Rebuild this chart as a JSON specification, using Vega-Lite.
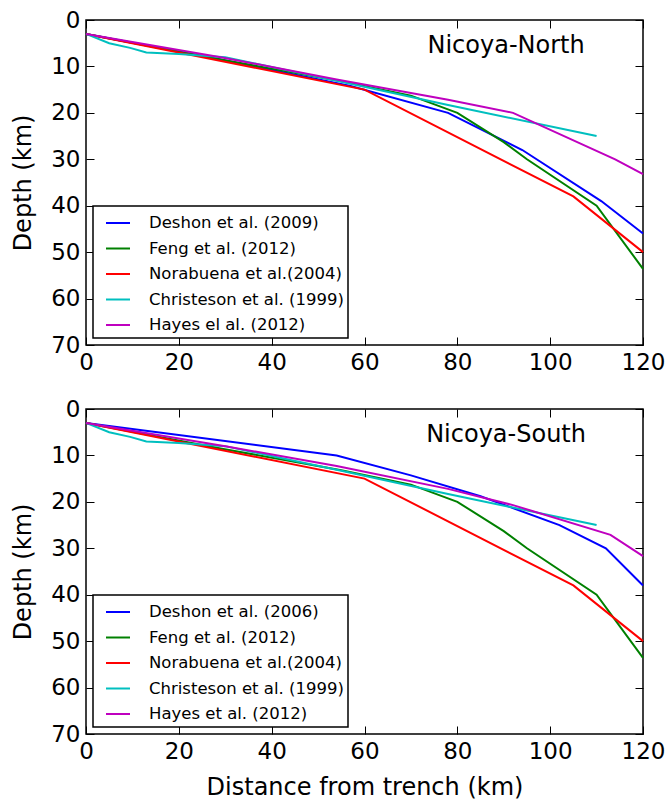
{
  "$schema": "https://vega.github.io/schema/vega-lite/v6.json",
  "padding": {"left": 10, "top": 8, "right": 5, "bottom": 5},
  "datasets": {
    "north": [
      {"source": "Deshon et al. (2009)", "distance": 0, "depth": 3},
      {"source": "Deshon et al. (2009)", "distance": 29, "depth": 8.5},
      {"source": "Deshon et al. (2009)", "distance": 57, "depth": 14.2},
      {"source": "Deshon et al. (2009)", "distance": 78, "depth": 20},
      {"source": "Deshon et al. (2009)", "distance": 94, "depth": 28},
      {"source": "Deshon et al. (2009)", "distance": 111, "depth": 39},
      {"source": "Deshon et al. (2009)", "distance": 120, "depth": 46},
      {"source": "Feng et al. (2012)", "distance": 0, "depth": 3},
      {"source": "Feng et al. (2012)", "distance": 29, "depth": 8.5},
      {"source": "Feng et al. (2012)", "distance": 55, "depth": 13.2},
      {"source": "Feng et al. (2012)", "distance": 70, "depth": 16.3},
      {"source": "Feng et al. (2012)", "distance": 80, "depth": 20},
      {"source": "Feng et al. (2012)", "distance": 90, "depth": 26.3},
      {"source": "Feng et al. (2012)", "distance": 95, "depth": 30},
      {"source": "Feng et al. (2012)", "distance": 110, "depth": 40},
      {"source": "Feng et al. (2012)", "distance": 120, "depth": 53.6},
      {"source": "Norabuena et al.(2004)", "distance": 0, "depth": 3},
      {"source": "Norabuena et al.(2004)", "distance": 60, "depth": 15},
      {"source": "Norabuena et al.(2004)", "distance": 105, "depth": 38},
      {"source": "Norabuena et al.(2004)", "distance": 120, "depth": 50},
      {"source": "Christeson et al. (1999)", "distance": 0, "depth": 3},
      {"source": "Christeson et al. (1999)", "distance": 5, "depth": 5},
      {"source": "Christeson et al. (1999)", "distance": 9.5, "depth": 6},
      {"source": "Christeson et al. (1999)", "distance": 13, "depth": 7},
      {"source": "Christeson et al. (1999)", "distance": 20, "depth": 7.3},
      {"source": "Christeson et al. (1999)", "distance": 30, "depth": 8},
      {"source": "Christeson et al. (1999)", "distance": 55, "depth": 13.3},
      {"source": "Christeson et al. (1999)", "distance": 78, "depth": 18.3},
      {"source": "Christeson et al. (1999)", "distance": 110, "depth": 25},
      {"source": "Hayes el al. (2012)", "distance": 0, "depth": 3},
      {"source": "Hayes el al. (2012)", "distance": 29, "depth": 8},
      {"source": "Hayes el al. (2012)", "distance": 54, "depth": 12.8},
      {"source": "Hayes el al. (2012)", "distance": 78, "depth": 17.2},
      {"source": "Hayes el al. (2012)", "distance": 92, "depth": 20},
      {"source": "Hayes el al. (2012)", "distance": 114, "depth": 30},
      {"source": "Hayes el al. (2012)", "distance": 120, "depth": 33.2}
    ],
    "south": [
      {"source": "Deshon et al. (2006)", "distance": 0, "depth": 3},
      {"source": "Deshon et al. (2006)", "distance": 54, "depth": 10},
      {"source": "Deshon et al. (2006)", "distance": 70, "depth": 14.3},
      {"source": "Deshon et al. (2006)", "distance": 85, "depth": 18.8},
      {"source": "Deshon et al. (2006)", "distance": 102, "depth": 25},
      {"source": "Deshon et al. (2006)", "distance": 112, "depth": 30},
      {"source": "Deshon et al. (2006)", "distance": 120, "depth": 38},
      {"source": "Feng et al. (2012)", "distance": 0, "depth": 3},
      {"source": "Feng et al. (2012)", "distance": 29, "depth": 8.5},
      {"source": "Feng et al. (2012)", "distance": 55, "depth": 13.2},
      {"source": "Feng et al. (2012)", "distance": 70, "depth": 16.3},
      {"source": "Feng et al. (2012)", "distance": 80, "depth": 20},
      {"source": "Feng et al. (2012)", "distance": 90, "depth": 26.3},
      {"source": "Feng et al. (2012)", "distance": 95, "depth": 30},
      {"source": "Feng et al. (2012)", "distance": 110, "depth": 40},
      {"source": "Feng et al. (2012)", "distance": 120, "depth": 53.6},
      {"source": "Norabuena et al.(2004)", "distance": 0, "depth": 3},
      {"source": "Norabuena et al.(2004)", "distance": 60, "depth": 15},
      {"source": "Norabuena et al.(2004)", "distance": 105, "depth": 38},
      {"source": "Norabuena et al.(2004)", "distance": 120, "depth": 50},
      {"source": "Christeson et al. (1999)", "distance": 0, "depth": 3},
      {"source": "Christeson et al. (1999)", "distance": 5, "depth": 5},
      {"source": "Christeson et al. (1999)", "distance": 9.5, "depth": 6},
      {"source": "Christeson et al. (1999)", "distance": 13, "depth": 7},
      {"source": "Christeson et al. (1999)", "distance": 20, "depth": 7.3},
      {"source": "Christeson et al. (1999)", "distance": 30, "depth": 8},
      {"source": "Christeson et al. (1999)", "distance": 55, "depth": 13.3},
      {"source": "Christeson et al. (1999)", "distance": 78, "depth": 18.3},
      {"source": "Christeson et al. (1999)", "distance": 110, "depth": 25},
      {"source": "Hayes et al. (2012)", "distance": 0, "depth": 3},
      {"source": "Hayes et al. (2012)", "distance": 30, "depth": 8},
      {"source": "Hayes et al. (2012)", "distance": 54, "depth": 12.3},
      {"source": "Hayes et al. (2012)", "distance": 78, "depth": 17.2},
      {"source": "Hayes et al. (2012)", "distance": 92, "depth": 20.7},
      {"source": "Hayes et al. (2012)", "distance": 113, "depth": 27.1},
      {"source": "Hayes et al. (2012)", "distance": 120, "depth": 31.7}
    ]
  },
  "spacing": 22,
  "vconcat": [
    {
      "width": 557,
      "height": 325,
      "layer": [
        {
          "data": {"name": "north"},
          "mark": {"type": "line", "strokeWidth": 2},
          "encoding": {
            "x": {"field": "distance", "type": "quantitative", "scale": {"domain": [0, 120], "nice": false}, "axis": {"values": [0, 20, 40, 60, 80, 100, 120], "title": null}},
            "y": {"field": "depth", "type": "quantitative", "scale": {"domain": [0, 70], "nice": false, "reverse": true}, "axis": {"values": [0, 10, 20, 30, 40, 50, 60, 70], "title": "Depth (km)"}},
            "color": {"field": "source", "type": "nominal", "scale": {"domain": ["Deshon et al. (2009)", "Feng et al. (2012)", "Norabuena et al.(2004)", "Christeson et al. (1999)", "Hayes el al. (2012)"], "range": ["#0000ff", "#008000", "#ff0000", "#00bfbf", "#bf00bf"]}, "legend": {"title": null}}
          }
        },
        {
          "data": {"values": [{}]},
          "mark": {"type": "text", "fontSize": 24, "align": "center", "baseline": "alphabetic", "color": "black"},
          "encoding": {
            "x": {"datum": 90.5, "type": "quantitative", "scale": {"domain": [0, 120], "nice": false}, "axis": {"orient": "top", "labels": false, "title": null, "values": [0, 20, 40, 60, 80, 100, 120]}},
            "y": {"datum": 7.1, "type": "quantitative", "scale": {"domain": [0, 70], "nice": false, "reverse": true}, "axis": {"orient": "right", "labels": false, "title": null, "values": [0, 10, 20, 30, 40, 50, 60, 70]}},
            "text": {"value": "Nicoya-North"}
          }
        }
      ],
      "resolve": {"axis": {"x": "independent", "y": "independent"}}
    },
    {
      "width": 557,
      "height": 325,
      "layer": [
        {
          "data": {"name": "south"},
          "mark": {"type": "line", "strokeWidth": 2},
          "encoding": {
            "x": {"field": "distance", "type": "quantitative", "scale": {"domain": [0, 120], "nice": false}, "axis": {"values": [0, 20, 40, 60, 80, 100, 120], "title": "Distance from trench (km)", "titlePadding": 12}},
            "y": {"field": "depth", "type": "quantitative", "scale": {"domain": [0, 70], "nice": false, "reverse": true}, "axis": {"values": [0, 10, 20, 30, 40, 50, 60, 70], "title": "Depth (km)"}},
            "color": {"field": "source", "type": "nominal", "scale": {"domain": ["Deshon et al. (2006)", "Feng et al. (2012)", "Norabuena et al.(2004)", "Christeson et al. (1999)", "Hayes et al. (2012)"], "range": ["#0000ff", "#008000", "#ff0000", "#00bfbf", "#bf00bf"]}, "legend": {"title": null}}
          }
        },
        {
          "data": {"values": [{}]},
          "mark": {"type": "text", "fontSize": 24, "align": "center", "baseline": "alphabetic", "color": "black"},
          "encoding": {
            "x": {"datum": 90.5, "type": "quantitative", "scale": {"domain": [0, 120], "nice": false}, "axis": {"orient": "top", "labels": false, "title": null, "values": [0, 20, 40, 60, 80, 100, 120]}},
            "y": {"datum": 7.1, "type": "quantitative", "scale": {"domain": [0, 70], "nice": false, "reverse": true}, "axis": {"orient": "right", "labels": false, "title": null, "values": [0, 10, 20, 30, 40, 50, 60, 70]}},
            "text": {"value": "Nicoya-South"}
          }
        }
      ],
      "resolve": {"axis": {"x": "independent", "y": "independent"}}
    }
  ],
  "resolve": {"scale": {"color": "independent"}},
  "config": {
    "font": "DejaVu Sans",
    "view": {"stroke": "black", "strokeWidth": 1.5},
    "axis": {"domain": false, "grid": false, "tickSize": -8, "tickColor": "black", "tickWidth": 1, "labelFontSize": 23, "labelColor": "black", "labelPadding": 14, "labelFlush": false, "labelOverlap": false, "titleFontSize": 24, "titleFontWeight": "normal", "titleColor": "black", "titlePadding": 15},
    "legend": {"orient": "bottom-left", "offset": 7, "strokeColor": "black", "strokeWidth": 1.5, "fillColor": "white", "padding": 4, "symbolOffset": 8, "labelFontSize": 16.5, "labelColor": "black", "labelLimit": 0, "symbolType": "stroke", "symbolStrokeWidth": 2, "symbolSize": 576, "labelOffset": 18, "rowPadding": 3.5}
  }
}
